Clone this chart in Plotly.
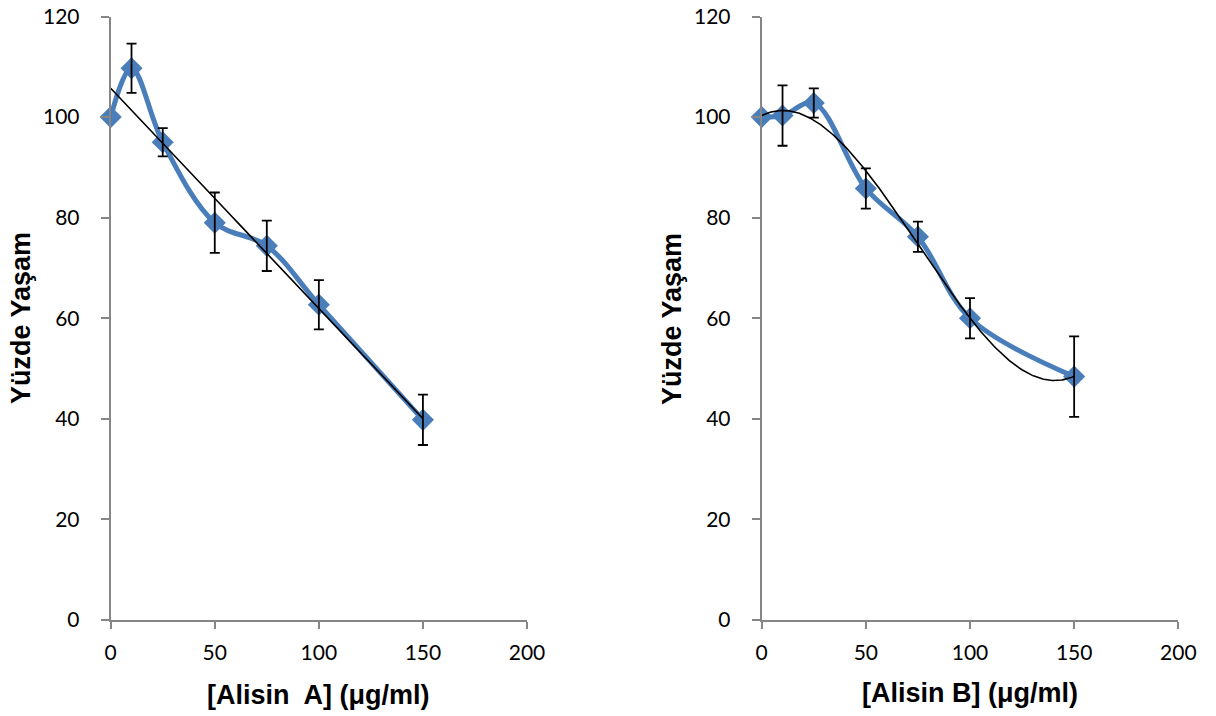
import numpy as np
import plotly.graph_objects as go

# Concentrations (µg/ml) and percent survival with error bars
conc = [0, 10, 25, 50, 75, 100, 150]

survival_a = [100, 109.7, 95.0, 79.0, 74.4, 62.7, 39.8]
error_a = [0, 4.9, 2.8, 6.0, 5.0, 4.9, 5.0]

survival_b = [100, 100.3, 102.8, 85.8, 76.2, 60.0, 48.4]
error_b = [0, 6.0, 2.9, 4.0, 3.0, 4.0, 8.0]

x_ticks = [0, 50, 100, 150, 200]
y_ticks = [0, 20, 40, 60, 80, 100, 120]

BLUE = "#4A7EBB"
AXIS_GRAY = "#868686"
W, H = 1216, 716

fig = go.Figure()


def add_panel(x, y, err, trend_deg, xa, ya):
    # smoothed data series
    fig.add_trace(go.Scatter(
        x=x, y=y, mode="lines+markers", xaxis=xa, yaxis=ya, cliponaxis=False,
        line=dict(color=BLUE, width=5, shape="spline", smoothing=1.0),
        marker=dict(symbol="diamond", size=17, color=BLUE),
        showlegend=False, hoverinfo="skip"))
    # polynomial trendline
    coef = np.polyfit(x, y, trend_deg)
    xs = np.linspace(min(x), max(x), 300)
    fig.add_trace(go.Scatter(
        x=xs, y=np.polyval(coef, xs), mode="lines", xaxis=xa, yaxis=ya,
        cliponaxis=False, line=dict(color="black", width=1.6),
        showlegend=False, hoverinfo="skip"))
    # error bars on top
    xe = [xv for xv, e in zip(x, err) if e > 0]
    ye = [yv for yv, e in zip(y, err) if e > 0]
    ee = [e for e in err if e > 0]
    fig.add_trace(go.Scatter(
        x=xe, y=ye, mode="markers", xaxis=xa, yaxis=ya, cliponaxis=False,
        marker=dict(size=1, color="rgba(0,0,0,0)"),
        error_y=dict(type="data", array=ee, visible=True,
                     color="black", thickness=1.8, width=5),
        showlegend=False, hoverinfo="skip"))


add_panel(conc, survival_a, error_a, 1, "x", "y")
add_panel(conc, survival_b, error_b, 3, "x2", "y2")

tick_font = dict(family="Lato, sans-serif", size=21, color="#000000")
title_font = dict(family="Liberation Sans, Arial, sans-serif", size=27, color="#000000")

ydom = [1 - 620 / H, 1 - 16.5 / H]
xdom1 = [110.7 / W, 527 / W]
xdom2 = [761.7 / W, 1178.3 / W]

common_x = dict(range=[0, 200], tickvals=x_ticks, showgrid=False, zeroline=False,
                showline=True, linecolor=AXIS_GRAY, linewidth=2, automargin=False,
                ticks="outside", ticklen=7, tickwidth=2, tickcolor=AXIS_GRAY,
                tickfont=tick_font, ticklabelstandoff=6)
common_y = dict(range=[0, 120], tickvals=y_ticks, showgrid=False, zeroline=False,
                showline=True, linecolor=AXIS_GRAY, linewidth=2, automargin=False,
                ticks="outside", ticklen=8, tickwidth=2, tickcolor=AXIS_GRAY,
                tickfont=tick_font, ticklabelstandoff=17, domain=ydom)

fig.update_layout(
    width=W, height=H,
    margin=dict(l=0, r=0, t=0, b=0, pad=0),
    paper_bgcolor="white", plot_bgcolor="white",
    xaxis=dict(domain=xdom1, anchor="y", **common_x),
    yaxis=dict(anchor="x", **common_y),
    xaxis2=dict(domain=xdom2, anchor="y2", **common_x),
    yaxis2=dict(anchor="x2", **common_y),
    annotations=[
        dict(text="<b>[Alisin  A] (μg/ml)</b>", x=(110.7 + 527) / 2 / W, y=1 - 695 / H,
             xref="paper", yref="paper", showarrow=False, font=title_font,
             xanchor="center", yanchor="middle"),
        dict(text="<b>[Alisin B] (μg/ml)</b>", x=(761.7 + 1178.3) / 2 / W, y=1 - 693 / H,
             xref="paper", yref="paper", showarrow=False, font=title_font,
             xanchor="center", yanchor="middle"),
        dict(text="<b>Yüzde Yaşam</b>", x=21 / W, y=1 - 318 / H, textangle=-90,
             xref="paper", yref="paper", showarrow=False, font=title_font,
             xanchor="center", yanchor="middle"),
        dict(text="<b>Yüzde Yaşam</b>", x=672 / W, y=1 - 319 / H, textangle=-90,
             xref="paper", yref="paper", showarrow=False, font=title_font,
             xanchor="center", yanchor="middle"),
    ],
)

fig.write_html("out.html")
